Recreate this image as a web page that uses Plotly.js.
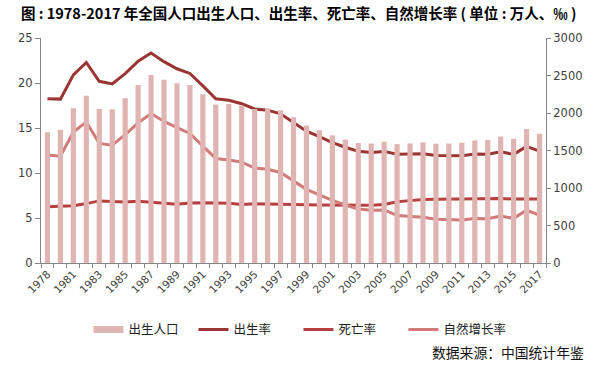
<!DOCTYPE html>
<html><head><meta charset="utf-8">
<script src="https://cdn.plot.ly/plotly-3.0.1.min.js"></script>
<style>html,body{margin:0;padding:0;background:#fff;}#chart{width:597px;height:367px;}</style>
</head><body><div id="chart"></div>
<script>
const years = ['1978','1980','1981','1982','1983','1984','1985','1986','1987','1988','1989','1990','1991','1992','1993','1994','1995','1996','1997','1998','1999','2000','2001','2002','2003','2004','2005','2006','2007','2008','2009','2010','2011','2012','2013','2014','2015','2016','2017'];
const births = [1745,1776,2064,2230,2052,2050,2196,2374,2508,2445,2396,2374,2250,2113,2120,2098,2052,2057,2038,1942,1834,1771,1702,1647,1599,1593,1617,1584,1594,1608,1591,1592,1604,1635,1640,1687,1655,1786,1723];
const birthRate = [18.25,18.21,20.91,22.28,20.19,19.90,21.04,22.43,23.33,22.37,21.58,21.06,19.68,18.24,18.09,17.70,17.12,16.98,16.57,15.64,14.64,14.03,13.38,12.86,12.41,12.29,12.40,12.09,12.10,12.14,11.95,11.90,11.93,12.10,12.08,12.37,12.07,12.95,12.43];
const deathRate = [6.25,6.34,6.36,6.60,6.90,6.82,6.78,6.86,6.72,6.64,6.54,6.67,6.70,6.64,6.64,6.49,6.57,6.56,6.51,6.50,6.46,6.45,6.43,6.41,6.40,6.42,6.51,6.81,6.93,7.06,7.08,7.11,7.14,7.15,7.16,7.16,7.11,7.09,7.11];
const growthRate = [12.00,11.87,14.55,15.68,13.29,13.08,14.26,15.57,16.61,15.73,15.04,14.39,12.98,11.60,11.45,11.21,10.55,10.42,10.06,9.14,8.18,7.58,6.95,6.45,6.01,5.87,5.89,5.28,5.17,5.08,4.87,4.79,4.79,4.95,4.92,5.21,4.96,5.86,5.32];
const labelYears = years.filter((y,i)=>i%2===0);
const names = ['出生人口','出生率','死亡率','自然增长率'];

const font = 'Noto Sans CJK SC, Noto Sans, sans-serif';
const tickFont = 'DejaVu Sans, Verdana, sans-serif';
const traces = [
  {type:'bar', x:years, y:births, name:names[0], yaxis:'y2', marker:{color:'#DFB4B3'}, showlegend:false},
  {type:'scatter', mode:'lines', x:[null], y:[null], name:names[0], yaxis:'y2', line:{color:'#DFB4B3', width:7}},
  {type:'scatter', mode:'lines', x:years, y:birthRate, name:names[1], line:{color:'#9A3532', width:3}},
  {type:'scatter', mode:'lines', x:years, y:deathRate, name:names[2], line:{color:'#B5403D', width:3}},
  {type:'scatter', mode:'lines', x:years, y:growthRate, name:names[3], line:{color:'#D17A77', width:3}},
  {type:'scatter', mode:'markers', x:[0], y:[0], xaxis:'x2', yaxis:'y', showlegend:false, hoverinfo:'skip', marker:{opacity:0}}
];
const layout = {
  width:597, height:367,
  margin:{l:41, r:51, t:37.5, b:104},
  paper_bgcolor:'#fff', plot_bgcolor:'#fff',
  font:{family:font, size:12, color:'#404040'},
  showlegend:true,
  bargap:0.6,
  title:{text:'<b>图 : 1978-2017 年全国人口出生人口、出生率、死亡率、自然增长率 ( 单位 : 万人、‰ )</b>', x:0.035, xanchor:'left', y:0.962, yanchor:'middle', font:{family:font, size:14.5, color:'#000'}},
  xaxis:{type:'category', tickmode:'array', tickvals:labelYears, ticktext:labelYears, tickangle:-45, ticks:'', showline:true, linecolor:'#868686', linewidth:1, showgrid:false, zeroline:false, tickfont:{family:tickFont, size:10.5, color:'#404040'}, range:[-0.5,38.5]},
  xaxis2:{overlaying:'x', anchor:'y', side:'bottom', range:[-0.5,38.5], tickmode:'linear', tick0:-0.5, dtick:1, ticks:'outside', ticklen:4, tickcolor:'#868686', showticklabels:false, showgrid:false, zeroline:false, showline:false},
  yaxis:{range:[0,25], dtick:5, ticks:'outside', ticklen:5, tickcolor:'#868686', showline:true, linecolor:'#868686', showgrid:false, zeroline:false, tickfont:{family:tickFont, size:11.5, color:'#404040'}},
  yaxis2:{range:[0,3000], dtick:500, overlaying:'y', side:'right', ticks:'outside', ticklen:4, tickcolor:'#868686', showline:true, linecolor:'#868686', showgrid:false, zeroline:false, tickfont:{family:tickFont, size:11.5, color:'#404040'}},
  legend:{orientation:'h', x:0.094, xanchor:'left', y:-0.23, yanchor:'top', font:{size:12.5, color:'#222'}, entrywidth:60, entrywidthmode:'pixels', itemwidth:30, traceorder:'normal'},
  annotations:[{text:'数据来源：中国统计年鉴', xref:'paper', yref:'paper', x:1.08, xanchor:'right', y:-0.34, yanchor:'top', showarrow:false, font:{size:13.8, color:'#111'}}]
};
Plotly.newPlot('chart', traces, layout, {displayModeBar:false, staticPlot:true});
</script></body></html>
